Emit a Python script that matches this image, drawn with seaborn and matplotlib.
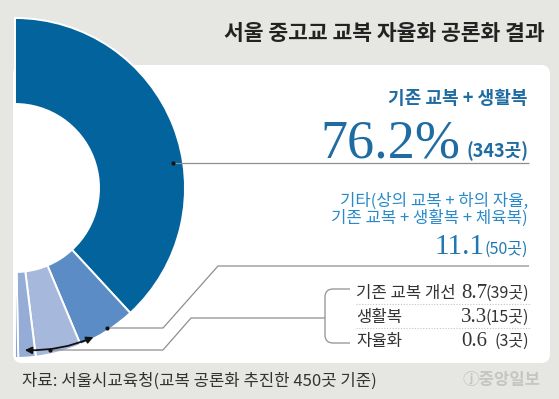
import matplotlib

matplotlib.use("Agg")
import matplotlib.pyplot as plt
import seaborn as sns
from matplotlib.patches import FancyArrowPatch, FancyBboxPatch, PathPatch
from matplotlib.path import Path

# data
title = "서울 중고교 교복 자율화 공론화 결과"
labels = ["기존 교복 + 생활복", "기타", "기존 교복 개선", "생활복", "자율화"]
shares = [76.2, 11.1, 8.7, 3.3, 0.6]
counts = [343, 50, 39, 15, 3]
other_note = ["기타(상의 교복 + 하의 자율,", "기존 교복 + 생활복 + 체육복)"]
slice_colors = ["#03649d", "#5b8cc6", "#a6b9dc", "#95acd6", "#86a2d2"]
source = "자료: 서울시교육청(교복 공론화 추진한 450곳 기준)"
logo = "ⓙ중앙일보"

sns.set_theme(style="white")
plt.rcParams["font.family"] = ["Noto Sans CJK KR", "DejaVu Sans"]
SERIF = ["Liberation Serif", "DejaVu Serif"]

BG = "#e6e6e2"
BLUE = "#1f6ca3"
LIGHT_BLUE = "#2a8ac8"
DARK = "#333333"
LINE = "#8e8e8e"

W, H = 559, 399
fig = plt.figure(figsize=(W / 100, H / 100), dpi=100)
fig.patch.set_facecolor(BG)
ax = fig.add_axes([0, 0, 1, 1])
ax.set_facecolor(BG)

# white card behind the chart
ax.add_patch(FancyBboxPatch((13, 65), 537, 298, boxstyle="round,pad=0,rounding_size=9",
                            fc="white", ec="none", zorder=0))

# half donut: the hidden second half balances the visible shares
wedges, _ = ax.pie(shares + [sum(shares)], colors=slice_colors + ["none"],
                   startangle=-90, counterclock=True, center=(15, 188), radius=170,
                   wedgeprops=dict(width=86, edgecolor="white", linewidth=1.4))
wedges[-1].set_visible(False)
for w in wedges:
    w.set_zorder(2)

ax.set_xlim(0, W)
ax.set_ylim(H, 0)
ax.set_axis_off()

ax.text(545, 33, title, ha="right", va="center", fontsize=15.5, fontweight="bold", color="#222222")

# leader lines
lk = dict(color=LINE, lw=0.9, zorder=3, solid_capstyle="butt")
ax.plot([173, 529], [163, 163], **lk)
ax.plot([107, 163, 218, 529], [328, 328, 266, 266], **lk)
ax.plot([50, 163, 191, 325], [350, 350, 318, 318], **lk)
ax.scatter([173, 107, 50], [163, 328, 350], s=4, color="#111111", zorder=4)

ax.add_patch(FancyArrowPatch((22, 350), (96, 336), arrowstyle="<|-|>,head_length=4,head_width=2",
                             connectionstyle="arc3,rad=0.12", color="#111111", lw=1.3, zorder=4))

# bracket for the three small groups
verts = [(350, 289), (333, 289), (325, 289), (325, 297), (325, 335), (325, 343), (333, 343), (350, 343)]
codes = [Path.MOVETO, Path.LINETO, Path.CURVE3, Path.CURVE3, Path.LINETO, Path.CURVE3, Path.CURVE3, Path.LINETO]
ax.add_patch(PathPatch(Path(verts, codes), fc="none", ec="#9a9a9a", lw=1.0, zorder=3))

# main group
ax.text(528, 98, labels[0], ha="right", va="center", fontsize=13, fontweight="bold", color=BLUE)
ax.text(460, 157, f"{shares[0]}%", ha="right", va="baseline", family=SERIF, fontsize=39, color=BLUE)
ax.text(528, 157, f"({counts[0]}곳)", ha="right", va="baseline", fontsize=13, fontweight="bold", color=BLUE)

# other
ax.text(528, 201, other_note[0], ha="right", va="center", fontsize=12, color=LIGHT_BLUE)
ax.text(528, 218, other_note[1], ha="right", va="center", fontsize=12, color=LIGHT_BLUE)
ax.text(484, 254, f"{shares[1]}", ha="right", va="baseline", family=SERIF, fontsize=21, color="#1f78b4")
ax.text(528, 254, f"({counts[1]}곳)", ha="right", va="baseline", fontsize=11.5, color="#1f78b4")

# small groups
for i, base in zip(range(2, 5), [298, 322, 346]):
    ax.text(356, base, labels[i], ha="left", va="baseline", fontsize=12, color=DARK)
    ax.text(487, base, f"{shares[i]}", ha="right", va="baseline", family=SERIF, fontsize=15, color=DARK)
    ax.text(529, base, f"({counts[i]}곳)", ha="right", va="baseline", fontsize=11.5, color=DARK)
for y in [304, 328]:
    ax.plot([356, 530], [y, y], ls=(0, (1, 1.5)), color="#c4c4c4", lw=0.8, zorder=3)

ax.text(22, 381, source, ha="left", va="center", fontsize=12, color=DARK)
ax.text(541, 380, logo, ha="right", va="center", fontsize=12, fontweight="bold", color="#c5c5c1")

fig.savefig("out.png", dpi=100)
